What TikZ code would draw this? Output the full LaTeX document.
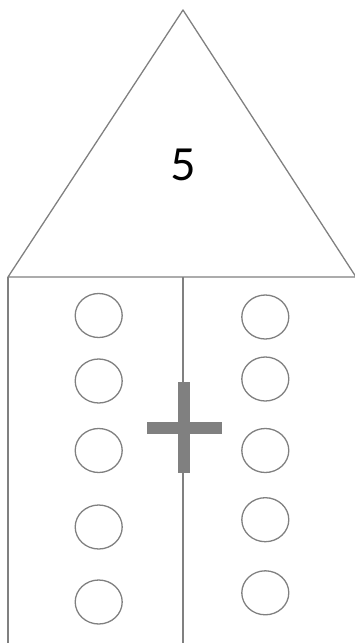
\documentclass[tikz,border=0pt]{standalone}
\usepackage{fontspec}
\setmainfont{Lato}
\usetikzlibrary{shapes.geometric}
\definecolor{linegray}{HTML}{808080}
\tikzset{
  outline/.style={draw=linegray, line width=1.3pt},
  dot/.style={ellipse, draw=linegray, line width=1.3pt, minimum width=47pt, minimum height=44pt, inner sep=0pt},
  plusbar/.style={fill=linegray, draw=none}
}
\begin{document}
\begin{tikzpicture}[x=1pt,y=-1pt]
\useasboundingbox (0,0) rectangle (355,643);
% roof
\coordinate (apex) at (183,10);
\coordinate (bl) at (8,277);
\coordinate (br) at (356,277);
\draw[outline, line join=round] (bl) -- (apex) -- (br) -- cycle;
\node (num) at (183,165) {\fontsize{44pt}{50pt}\selectfont 5};
% walls
\coordinate (lb) at (8,645);
\coordinate (mt) at (183,277);
\coordinate (mb) at (183,645);
\draw[outline] (bl) -- (lb);
\draw[outline] (mt) -- (mb);
% plus
\fill[plusbar] (177.7,381.7) rectangle (190,472.7);
\fill[plusbar] (146.7,422.3) rectangle (221.7,433.7);
% left dots
\node[dot] (l1) at (98.7,315.5) {};
\node[dot] (l2) at (98.7,381) {};
\node[dot] (l3) at (98.7,450.5) {};
\node[dot] (l4) at (98.7,527) {};
\node[dot] (l5) at (98.7,602) {};
% right dots
\node[dot] (r1) at (265.3,317) {};
\node[dot] (r2) at (265.3,379) {};
\node[dot] (r3) at (265.3,450.5) {};
\node[dot] (r4) at (265.3,519.7) {};
\node[dot] (r5) at (265.3,592.8) {};
\end{tikzpicture}
\end{document}
